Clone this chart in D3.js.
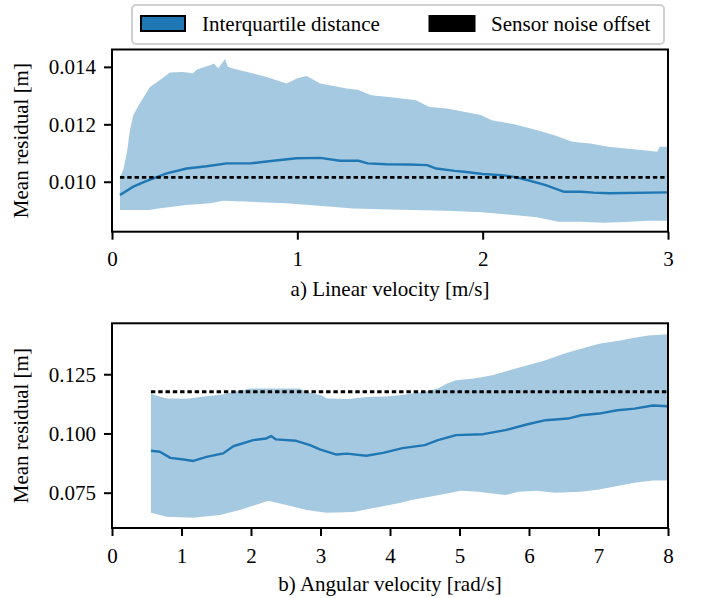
<!DOCTYPE html>
<html><head><meta charset="utf-8">
<script src="https://cdn.jsdelivr.net/npm/d3@7"></script>
<style>body{margin:0;background:#fff}svg{display:block} text{font-family:"Liberation Serif","Times New Roman",Times,serif !important;}</style>
</head><body>
<script>
// ---------- data ----------
const linUpper = [[0.043,0.01017],[0.06,0.0104],[0.08,0.0110],[0.097,0.0118],[0.115,0.01232],[0.16,0.01284],[0.205,0.0133],[0.259,0.01354],[0.313,0.0138],[0.38,0.01382],[0.437,0.01378],[0.459,0.01391],[0.53,0.01406],[0.55,0.01412],[0.573,0.01395],[0.61,0.01427],[0.625,0.01400],[0.652,0.01394],[0.762,0.01377],[0.834,0.01365],[0.942,0.01342],[1.0,0.0136],[1.05,0.01368],[1.124,0.01342],[1.266,0.01325],[1.326,0.0132],[1.399,0.01301],[1.519,0.01293],[1.64,0.01284],[1.712,0.0126],[1.809,0.01255],[1.905,0.01243],[1.989,0.01232],[2.05,0.01214],[2.17,0.012],[2.29,0.0118],[2.387,0.01162],[2.484,0.01139],[2.58,0.01133],[2.677,0.01122],[2.773,0.01116],[2.87,0.0111],[2.942,0.01104],[2.955,0.01122],[3.0,0.01122]];
const linLower = [[0.043,0.00902],[0.2,0.00902],[0.25,0.00907],[0.4,0.00919],[0.53,0.00925],[0.6,0.00934],[0.75,0.0093],[0.94,0.00925],[1.15,0.00915],[1.3,0.00907],[1.5,0.00903],[1.8,0.00899],[2.0,0.00894],[2.17,0.00884],[2.29,0.00876],[2.41,0.00861],[2.53,0.00861],[2.65,0.00857],[2.77,0.0086],[2.89,0.00864],[3.0,0.00864]];
const linMean = [[0.043,0.00954],[0.115,0.00983],[0.187,0.01003],[0.295,0.01029],[0.403,0.01046],[0.511,0.01054],[0.619,0.01064],[0.745,0.01064],[0.87,0.01073],[0.996,0.01082],[1.124,0.01083],[1.23,0.01073],[1.33,0.01073],[1.38,0.01064],[1.48,0.01061],[1.6,0.0106],[1.7,0.01058],[1.75,0.01046],[1.85,0.01038],[1.9,0.01035],[2.0,0.01027],[2.1,0.01023],[2.17,0.01017],[2.24,0.01006],[2.34,0.00988],[2.44,0.00965],[2.53,0.00965],[2.6,0.00962],[2.68,0.0096],[3.0,0.00963]];
const linNoise = [[0.043,0.01015],[3.0,0.01015]];

const angUpper = [[0.56,0.1169],[0.61,0.1162],[0.787,0.1148],[1.09,0.1147],[1.27,0.1154],[1.61,0.1166],[1.745,0.1175],[1.99,0.119],[2.25,0.119],[2.7,0.119],[2.8,0.1175],[3.02,0.1160],[3.09,0.1148],[3.41,0.1145],[3.66,0.1154],[3.92,0.1156],[4.14,0.1161],[4.5,0.1176],[4.69,0.119],[4.82,0.1211],[4.95,0.1225],[5.21,0.1232],[5.47,0.1246],[5.72,0.1267],[5.98,0.1288],[6.24,0.1309],[6.5,0.1337],[6.75,0.1358],[7.01,0.1379],[7.27,0.139],[7.52,0.1404],[7.72,0.1414],[8.0,0.1419]];
const angLower = [[0.56,0.0665],[0.787,0.0648],[1.17,0.0644],[1.55,0.0656],[1.84,0.0677],[2.25,0.0716],[2.51,0.0698],[2.8,0.0677],[3.09,0.0665],[3.47,0.0669],[3.86,0.0691],[4.14,0.0707],[4.31,0.0719],[4.57,0.0733],[4.82,0.0747],[5.02,0.0758],[5.27,0.0754],[5.47,0.0747],[5.66,0.074],[5.85,0.0754],[6.11,0.0758],[6.37,0.075],[6.75,0.0754],[7.01,0.0764],[7.27,0.0778],[7.52,0.0792],[7.78,0.0801],[8.0,0.0801]];
const angMean = [[0.56,0.0927],[0.69,0.0923],[0.84,0.0897],[1.03,0.089],[1.17,0.0884],[1.36,0.0901],[1.6,0.0916],[1.745,0.0946],[2.03,0.0972],[2.22,0.0979],[2.29,0.0989],[2.36,0.0975],[2.65,0.0969],[2.85,0.0951],[2.99,0.0933],[3.23,0.0911],[3.38,0.0915],[3.66,0.0906],[3.9,0.0918],[4.18,0.0938],[4.5,0.0951],[4.69,0.0972],[4.95,0.0993],[5.34,0.0997],[5.66,0.1014],[5.98,0.1039],[6.24,0.1056],[6.56,0.1063],[6.75,0.1077],[7.01,0.1084],[7.27,0.1098],[7.52,0.1105],[7.78,0.1118],[8.0,0.1115]];
const angNoise = [[0.56,0.1176],[8.0,0.1176]];

const linXTicks = [0,1,2,3];
const linYTicks = [0.010,0.012,0.014];
const angXTicks = [0,1,2,3,4,5,6,7,8];
const angYTicks = [0.075,0.100,0.125];
const legendLabels = ["Interquartile distance","Sensor noise offset"];
const yLabel = "Mean residual [m]";
const xLabels = ["a) Linear velocity [m/s]","b) Angular velocity [rad/s]"];

// ---------- drawing ----------
const W = 701, H = 598;
const FONT = "Liberation Serif";
const FS = 21;
const C0 = "#1f77b4", FILL = "#a5c9e1";
const svg = d3.select("body").append("svg").attr("width", W).attr("height", H)
  .attr("font-family", FONT);

function panel(cfg){
  const x = d3.scaleLinear().domain(cfg.xd).range([112, 668]);
  const y = d3.scaleLinear().domain(cfg.yd).range([cfg.bottom, cfg.top]);
  const g = svg.append("g");
  const poly = cfg.upper.concat(cfg.lower.slice().reverse());
  g.append("path").attr("d", d3.line().x(d=>x(d[0])).y(d=>y(d[1]))(poly) + "Z")
    .attr("fill", FILL).attr("stroke", "none");
  g.append("path").attr("d", d3.line().x(d=>x(d[0])).y(d=>y(d[1]))(cfg.mean))
    .attr("fill","none").attr("stroke", C0).attr("stroke-width", 2.4)
    .attr("stroke-linejoin","round");
  g.append("path").attr("d", d3.line().x(d=>x(d[0])).y(d=>y(d[1]))(cfg.noise))
    .attr("fill","none").attr("stroke", "#000").attr("stroke-width", 2.8)
    .attr("stroke-dasharray","4.4,2.9");
  g.append("rect").attr("x", 112).attr("y", cfg.top).attr("width", 556)
    .attr("height", cfg.bottom - cfg.top).attr("fill","none")
    .attr("stroke","#000").attr("stroke-width", 2);
  const xa = g.append("g").attr("transform", `translate(0,${cfg.bottom})`)
    .call(d3.axisBottom(x).tickValues(cfg.xt).tickFormat(d3.format("d")).tickSizeOuter(0).tickSize(8).tickPadding(4));
  const ya = g.append("g").attr("transform", `translate(112,0)`)
    .call(d3.axisLeft(y).tickValues(cfg.yt).tickFormat(d3.format(".3f")).tickSizeOuter(0).tickSize(8).tickPadding(8));
  [xa, ya].forEach(a => {
    a.attr("font-family", FONT).attr("font-size", FS);
    a.select(".domain").remove();
    a.selectAll(".tick line").attr("stroke","#000").attr("stroke-width",2);
    a.selectAll("text").attr("font-family", FONT).attr("font-size", FS).attr("fill","#000");
  });
  xa.selectAll("text").attr("dy", null).attr("y", cfg.tickBase - cfg.bottom);
  ya.selectAll("text").attr("dy", "0.33em");
  g.append("text").attr("x", 390).attr("y", cfg.labelBase).attr("text-anchor","middle")
    .attr("font-family", FONT).attr("font-size", FS).text(cfg.xlabel);
  g.append("text").attr("transform", `translate(27.5,${(cfg.top+cfg.bottom)/2}) rotate(-90)`)
    .attr("text-anchor","middle").attr("font-family", FONT).attr("font-size", FS).text(yLabel);
}

panel({xd:[0,3], yd:[0.00826,0.014605], top:49.5, bottom:231.7,
  upper:linUpper, lower:linLower, mean:linMean, noise:linNoise,
  xt:linXTicks, yt:linYTicks, tickBase:266.5, labelBase:295.5, xlabel:xLabels[0]});
panel({xd:[0,8], yd:[0.0601,0.1465], top:323.3, bottom:528,
  upper:angUpper, lower:angLower, mean:angMean, noise:angNoise,
  xt:angXTicks, yt:angYTicks, tickBase:562.7, labelBase:590.6, xlabel:xLabels[1]});

// legend
const lg = svg.append("g");
lg.append("rect").attr("x", 132).attr("y", 5).attr("width", 532).attr("height", 39)
  .attr("rx", 4).attr("fill", "#fff").attr("fill-opacity", 0.8)
  .attr("stroke", "#d0d0d0").attr("stroke-width", 2);
lg.append("rect").attr("x", 141).attr("y", 16).attr("width", 44).attr("height", 15)
  .attr("fill", C0).attr("stroke", "#000").attr("stroke-width", 2);
lg.append("text").attr("x", 202).attr("y", 31).attr("font-family", FONT).attr("font-size", FS).text(legendLabels[0]);
lg.append("rect").attr("x", 428.5).attr("y", 15).attr("width", 47).attr("height", 17)
  .attr("fill", "#000");
lg.append("text").attr("x", 491).attr("y", 31).attr("font-family", FONT).attr("font-size", FS).text(legendLabels[1]);
</script>
</body></html>
